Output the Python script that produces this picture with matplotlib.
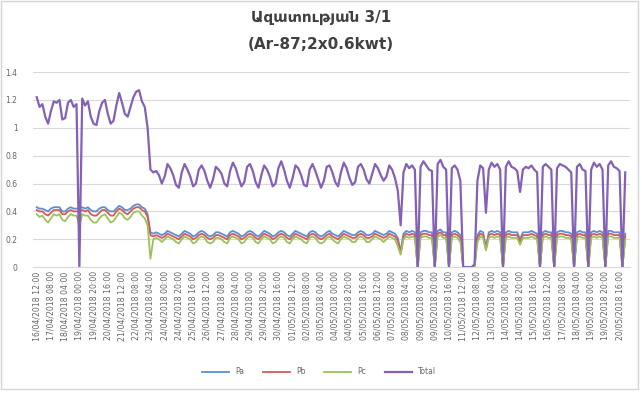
import numpy as np
import matplotlib.pyplot as plt
from matplotlib.patches import Rectangle

# readings every 4 h, kW
total = [
    1.22, 1.15, 1.17, 1.08, 1.03, 1.12, 1.19, 1.18, 1.20, 1.06,
    1.07, 1.18, 1.20, 1.15, 1.17, 0.00, 1.21, 1.16, 1.19, 1.08,
    1.03, 1.02, 1.12, 1.18, 1.20, 1.10, 1.03, 1.05, 1.16, 1.25,
    1.18, 1.10, 1.08, 1.15, 1.22, 1.26, 1.27, 1.19, 1.15, 1.00,
    0.70, 0.68, 0.69, 0.66, 0.60, 0.65, 0.74, 0.71, 0.66, 0.59,
    0.57, 0.68, 0.74, 0.70, 0.65, 0.58, 0.60, 0.70, 0.73, 0.69,
    0.62, 0.57, 0.63, 0.72, 0.70, 0.67, 0.60, 0.58, 0.69, 0.75,
    0.71, 0.64, 0.58, 0.61, 0.72, 0.74, 0.69, 0.61, 0.57, 0.66,
    0.73, 0.70, 0.65, 0.58, 0.60, 0.71, 0.76, 0.70, 0.62, 0.57,
    0.64, 0.73, 0.71, 0.66, 0.59, 0.58, 0.70, 0.74, 0.69, 0.63,
    0.57, 0.62, 0.72, 0.73, 0.68, 0.61, 0.58, 0.68, 0.75, 0.71,
    0.64, 0.59, 0.61, 0.72, 0.74, 0.70, 0.63, 0.60, 0.67, 0.74,
    0.71, 0.66, 0.62, 0.65, 0.73, 0.70, 0.64, 0.55, 0.30, 0.68,
    0.74, 0.71, 0.73, 0.70, 0.00, 0.72, 0.76, 0.73, 0.70, 0.69,
    0.00, 0.74, 0.77, 0.72, 0.70, 0.00, 0.71, 0.73, 0.70, 0.62,
    0.00, 0.00, 0.00, 0.00, 0.02, 0.62, 0.73, 0.71, 0.39, 0.70,
    0.75, 0.72, 0.74, 0.70, 0.00, 0.72, 0.76, 0.72, 0.71, 0.69,
    0.54, 0.70, 0.72, 0.71, 0.73, 0.70, 0.68, 0.00, 0.72, 0.74,
    0.72, 0.70, 0.00, 0.71, 0.74, 0.73, 0.72, 0.70, 0.68, 0.00,
    0.72, 0.74, 0.70, 0.69, 0.00, 0.70, 0.75, 0.72, 0.74, 0.70,
    0.00, 0.73, 0.76, 0.72, 0.71, 0.69, 0.00, 0.68,
]

pa = [
    0.43, 0.42, 0.42, 0.41, 0.40, 0.42, 0.43, 0.43, 0.43, 0.40,
    0.40, 0.42, 0.43, 0.42, 0.42, 0.42, 0.43, 0.42, 0.43, 0.41,
    0.40, 0.40, 0.42, 0.43, 0.43, 0.41, 0.40, 0.40, 0.42, 0.44,
    0.43, 0.41, 0.41, 0.42, 0.44, 0.45, 0.45, 0.43, 0.42, 0.38,
    0.25, 0.24, 0.25, 0.24, 0.23, 0.24, 0.26, 0.25, 0.24, 0.23,
    0.22, 0.24, 0.26, 0.25, 0.24, 0.22, 0.23, 0.25, 0.26, 0.25,
    0.23, 0.22, 0.23, 0.25, 0.25, 0.24, 0.23, 0.22, 0.25, 0.26,
    0.25, 0.24, 0.22, 0.23, 0.25, 0.26, 0.25, 0.23, 0.22, 0.24,
    0.26, 0.25, 0.24, 0.22, 0.23, 0.25, 0.26, 0.25, 0.23, 0.22,
    0.24, 0.26, 0.25, 0.24, 0.23, 0.22, 0.25, 0.26, 0.25, 0.23,
    0.22, 0.23, 0.25, 0.26, 0.24, 0.23, 0.22, 0.24, 0.26, 0.25,
    0.24, 0.23, 0.23, 0.25, 0.26, 0.25, 0.23, 0.23, 0.24, 0.26,
    0.25, 0.24, 0.23, 0.24, 0.26, 0.25, 0.24, 0.21, 0.11, 0.24,
    0.26, 0.25, 0.26, 0.25, 0.00, 0.25, 0.26, 0.26, 0.25, 0.25,
    0.00, 0.26, 0.27, 0.25, 0.25, 0.00, 0.25, 0.26, 0.25, 0.23,
    0.00, 0.00, 0.00, 0.00, 0.01, 0.23, 0.26, 0.25, 0.14, 0.25,
    0.26, 0.25, 0.26, 0.25, 0.00, 0.25, 0.26, 0.25, 0.25, 0.25,
    0.20, 0.25, 0.25, 0.25, 0.26, 0.25, 0.24, 0.00, 0.25, 0.26,
    0.25, 0.25, 0.00, 0.25, 0.26, 0.26, 0.25, 0.25, 0.24, 0.00,
    0.25, 0.26, 0.25, 0.25, 0.00, 0.25, 0.26, 0.25, 0.26, 0.25,
    0.00, 0.26, 0.26, 0.25, 0.25, 0.25, 0.00, 0.24,
]

pb = [
    0.41, 0.40, 0.40, 0.38, 0.37, 0.39, 0.41, 0.41, 0.41, 0.38,
    0.38, 0.40, 0.41, 0.40, 0.40, 0.40, 0.41, 0.40, 0.41, 0.38,
    0.37, 0.37, 0.39, 0.41, 0.41, 0.39, 0.37, 0.37, 0.40, 0.42,
    0.41, 0.39, 0.38, 0.40, 0.42, 0.43, 0.43, 0.41, 0.40, 0.36,
    0.23, 0.22, 0.23, 0.22, 0.21, 0.22, 0.24, 0.23, 0.22, 0.21,
    0.20, 0.22, 0.24, 0.23, 0.22, 0.20, 0.21, 0.23, 0.24, 0.23,
    0.21, 0.20, 0.21, 0.23, 0.23, 0.22, 0.21, 0.20, 0.23, 0.24,
    0.23, 0.22, 0.20, 0.21, 0.23, 0.24, 0.23, 0.21, 0.20, 0.22,
    0.24, 0.23, 0.22, 0.20, 0.21, 0.23, 0.24, 0.23, 0.21, 0.20,
    0.22, 0.24, 0.23, 0.22, 0.21, 0.20, 0.23, 0.24, 0.23, 0.21,
    0.20, 0.21, 0.23, 0.24, 0.22, 0.21, 0.20, 0.22, 0.24, 0.23,
    0.22, 0.21, 0.21, 0.23, 0.24, 0.23, 0.21, 0.21, 0.22, 0.24,
    0.23, 0.22, 0.21, 0.22, 0.24, 0.23, 0.22, 0.19, 0.10, 0.22,
    0.24, 0.23, 0.24, 0.23, 0.00, 0.23, 0.24, 0.24, 0.23, 0.23,
    0.00, 0.24, 0.25, 0.23, 0.23, 0.00, 0.23, 0.24, 0.23, 0.21,
    0.00, 0.00, 0.00, 0.00, 0.01, 0.21, 0.24, 0.23, 0.13, 0.23,
    0.24, 0.23, 0.24, 0.23, 0.00, 0.23, 0.24, 0.23, 0.23, 0.23,
    0.18, 0.23, 0.23, 0.23, 0.24, 0.23, 0.22, 0.00, 0.23, 0.24,
    0.23, 0.23, 0.00, 0.23, 0.24, 0.24, 0.23, 0.23, 0.22, 0.00,
    0.23, 0.24, 0.23, 0.23, 0.00, 0.23, 0.24, 0.23, 0.24, 0.23,
    0.00, 0.24, 0.24, 0.23, 0.23, 0.23, 0.00, 0.22,
]

pc = [
    0.38, 0.36, 0.37, 0.34, 0.32, 0.35, 0.38, 0.37, 0.38, 0.34,
    0.33, 0.36, 0.38, 0.37, 0.37, 0.30, 0.38, 0.37, 0.37, 0.34,
    0.32, 0.32, 0.35, 0.37, 0.38, 0.35, 0.32, 0.33, 0.36, 0.39,
    0.38, 0.35, 0.34, 0.36, 0.39, 0.40, 0.40, 0.37, 0.35, 0.30,
    0.06, 0.20, 0.21, 0.20, 0.18, 0.20, 0.22, 0.21, 0.20, 0.18,
    0.17, 0.20, 0.22, 0.21, 0.20, 0.17, 0.18, 0.21, 0.22, 0.21,
    0.18, 0.17, 0.18, 0.21, 0.21, 0.20, 0.18, 0.17, 0.21, 0.22,
    0.21, 0.20, 0.17, 0.18, 0.21, 0.22, 0.21, 0.18, 0.17, 0.20,
    0.22, 0.21, 0.20, 0.17, 0.18, 0.21, 0.22, 0.21, 0.18, 0.17,
    0.20, 0.22, 0.21, 0.20, 0.18, 0.17, 0.21, 0.22, 0.21, 0.18,
    0.17, 0.18, 0.21, 0.22, 0.20, 0.18, 0.17, 0.20, 0.22, 0.21,
    0.20, 0.18, 0.18, 0.21, 0.22, 0.21, 0.18, 0.18, 0.20, 0.22,
    0.21, 0.20, 0.18, 0.20, 0.22, 0.21, 0.20, 0.15, 0.09, 0.20,
    0.22, 0.21, 0.22, 0.21, 0.00, 0.21, 0.22, 0.22, 0.21, 0.21,
    0.00, 0.22, 0.23, 0.21, 0.21, 0.00, 0.21, 0.22, 0.21, 0.18,
    0.00, 0.00, 0.00, 0.00, 0.00, 0.18, 0.22, 0.21, 0.12, 0.21,
    0.22, 0.21, 0.22, 0.21, 0.00, 0.21, 0.22, 0.21, 0.21, 0.21,
    0.16, 0.21, 0.21, 0.21, 0.22, 0.21, 0.20, 0.00, 0.21, 0.22,
    0.21, 0.21, 0.00, 0.21, 0.22, 0.22, 0.21, 0.21, 0.20, 0.00,
    0.21, 0.22, 0.21, 0.21, 0.00, 0.21, 0.22, 0.21, 0.22, 0.21,
    0.00, 0.22, 0.22, 0.21, 0.21, 0.21, 0.00, 0.20,
]

# category labels, one every 5 readings
tick_labels = [
    "16/04/2018 12:00", "17/04/2018 08:00", "18/04/2018 04:00", "19/04/2018 00:00",
    "19/04/2018 20:00", "20/04/2018 16:00", "21/04/2018 12:00", "22/04/2018 08:00",
    "23/04/2018 04:00", "24/04/2018 00:00", "24/04/2018 20:00", "25/04/2018 16:00",
    "26/04/2018 12:00", "27/04/2018 08:00", "28/04/2018 04:00", "29/04/2018 00:00",
    "29/04/2018 20:00", "30/04/2018 16:00", "01/05/2018 12:00", "02/05/2018 08:00",
    "03/05/2018 04:00", "04/05/2018 00:00", "04/05/2018 20:00", "05/05/2018 16:00",
    "06/05/2018 12:00", "07/05/2018 08:00", "08/05/2018 04:00", "09/05/2018 00:00",
    "09/05/2018 20:00", "10/05/2018 16:00", "11/05/2018 12:00", "12/05/2018 08:00",
    "13/05/2018 04:00", "14/05/2018 00:00", "14/05/2018 20:00", "15/05/2018 16:00",
    "16/05/2018 12:00", "17/05/2018 08:00", "18/05/2018 04:00", "19/05/2018 00:00",
    "19/05/2018 20:00", "20/05/2018 16:00",
]
label_step = 5

plt.rcParams['font.family'] = ['DejaVu Sans']

fig = plt.figure(figsize=(6.42, 3.94), dpi=100)
ax = fig.add_axes([0.051, 0.322, 0.93, 0.495])

x = np.arange(len(total))
ax.plot(x, pa, color='#5B8FD4', lw=1.3, label='Pa')
ax.plot(x, pb, color='#D65A55', lw=1.3, label='Pb')
ax.plot(x, pc, color='#9BC25A', lw=1.3, label='Pc')
ax.plot(x, total, color='#8460B6', lw=1.6, label='Total')

ax.set_ylim(0, 1.4)
ax.set_xlim(-1.4, len(total) + 0.6)
ax.set_yticks(np.arange(0, 1.41, 0.2))
ax.set_yticklabels(['0', '0.2', '0.4', '0.6', '0.8', '1', '1.2', '1.4'])
ax.set_xticks(np.arange(len(tick_labels)) * label_step)
ax.set_xticklabels(tick_labels, rotation=90)

ax.grid(axis='y', color='#D9D9D9', lw=0.8)
ax.set_axisbelow(True)
for side in ['top', 'right', 'left']:
    ax.spines[side].set_visible(False)
ax.spines['bottom'].set_color('#D9D9D9')
ax.tick_params(axis='both', length=0, colors='#666666')
ax.tick_params(axis='y', labelsize=5.5, pad=11)
ax.tick_params(axis='x', labelsize=5.6, pad=3)

fig.text(0.5, 0.955, "Ազատության 3/1", ha='center', va='center',
         fontsize=11, fontweight='bold', color='#404040')
fig.text(0.5, 0.888, "(Ar-87;2x0.6kwt)", ha='center', va='center',
         fontsize=11, fontweight='bold', color='#404040')

fig.legend(loc='center', bbox_to_anchor=(0.497, 0.056), ncol=4, frameon=False,
           fontsize=5.5, handlelength=3.5, columnspacing=2.5,
           labelcolor='#666666')

# card outline
fig.patches.append(Rectangle((0.002, 0.012), 0.992, 0.985, transform=fig.transFigure,
                             fill=False, edgecolor='#D5D5D5', lw=1.0))

fig.savefig('out.png', dpi=100)
